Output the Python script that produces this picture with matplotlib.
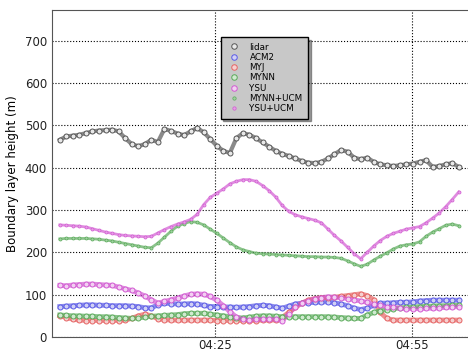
import numpy as np
import matplotlib
matplotlib.use("Agg")
import matplotlib.pyplot as plt

# minutes after 04:00, one sample per minute
minutes = np.arange(62) + 1.2

lidar = [466, 474, 476, 478, 482, 486, 488, 489, 490, 486, 470, 456, 451, 456, 466, 461,
         492, 487, 481, 477, 486, 494, 484, 468, 452, 440, 435, 470, 482, 478, 470, 460,
         450, 440, 433, 428, 422, 416, 412, 411, 414, 422, 432, 442, 438, 424, 420, 424,
         414, 408, 406, 404, 406, 408, 410, 414, 418, 402, 404, 408, 411, 402]
acm2 = [72, 73, 74, 75, 76, 76, 75, 75, 74, 74, 74, 73, 72, 69, 69, 76, 80, 79, 78, 78,
        79, 78, 75, 72, 72, 71, 71, 70, 71, 72, 74, 75, 74, 71, 68, 73, 78, 80, 81, 82,
        83, 83, 81, 78, 74, 68, 65, 68, 75, 80, 80, 81, 82, 82, 83, 85, 86, 87, 87, 87,
        87, 87]
myj = [50, 46, 42, 40, 39, 39, 39, 39, 39, 39, 40, 44, 50, 54, 50, 43, 41, 40, 40, 40,
       40, 40, 40, 40, 39, 39, 39, 39, 39, 39, 39, 40, 40, 40, 46, 58, 70, 80, 87, 91,
       93, 93, 94, 96, 98, 100, 102, 98, 88, 58, 44, 40, 40, 40, 40, 40, 40, 40, 40, 40,
       40, 40]
mynn = [52, 51, 50, 50, 49, 49, 48, 48, 47, 46, 45, 44, 45, 47, 49, 50, 51, 52, 53, 55,
        56, 56, 56, 54, 52, 50, 48, 46, 45, 47, 49, 50, 50, 49, 48, 48, 48, 48, 48, 48,
        48, 48, 47, 46, 45, 44, 44, 52, 58, 62, 65, 67, 69, 70, 71, 72, 73, 73, 74, 74,
        75, 75]
ysu = [122, 121, 123, 124, 125, 125, 124, 123, 122, 118, 114, 110, 104, 97, 88, 80, 84,
       88, 92, 97, 101, 102, 101, 96, 87, 74, 60, 47, 42, 41, 42, 42, 42, 42, 38, 55, 72,
       80, 86, 90, 93, 95, 94, 93, 91, 88, 85, 82, 78, 75, 72, 70, 68, 67, 67, 67, 68,
       68, 69, 70, 71, 72]
mynn_ucm = [232, 233, 233, 233, 233, 232, 231, 229, 227, 224, 221, 218, 215, 212, 211,
            222, 236, 250, 262, 268, 273, 271, 265, 255, 245, 234, 223, 213, 206, 202,
            198, 197, 196, 195, 194, 193, 192, 191, 190, 190, 189, 189, 188, 186, 180,
            173, 167, 172, 182, 191, 199, 208, 215, 218, 220, 225, 238, 248, 256, 264,
            267, 263]
ysu_ucm = [265, 264, 263, 262, 260, 256, 252, 248, 245, 242, 240, 239, 238, 237, 238,
           246, 254, 261, 267, 272, 278, 290, 313, 330, 340, 350, 362, 368, 372, 372,
           368, 358, 346, 331, 311, 297, 289, 284, 280, 276, 270, 255, 240, 227, 212,
           197, 185, 200, 215, 228, 238, 245, 250, 255, 258, 261, 270, 281, 293, 308,
           325, 343]

xtick_pos = [25, 55]
xtick_labels = ["04:25", "04:55"]

fig = plt.figure(figsize=(4.68, 3.52), dpi=100)
ax = fig.add_axes([0.111, 0.0426, 0.9, 0.929])

big = dict(marker="o", markersize=3.6, markeredgewidth=0.7)
small = dict(marker="o", markersize=2.2, markeredgewidth=0.5)

ax.plot(minutes, lidar, "-", color="#8a8a8a", lw=3.0, zorder=2)
ax.plot(minutes, lidar, ls="none", mfc="#e8e8e8", mec="#555555", label="lidar", zorder=3, **big)

series = [
    (acm2, "#5a5ae6", "#d0d0f5", "ACM2", big),
    (myj, "#e66464", "#f5d0d0", "MYJ", big),
    (mynn, "#5aaa5a", "#d0ead0", "MYNN", big),
    (ysu, "#d25ad2", "#f2d0f2", "YSU", big),
    (mynn_ucm, "#5aaa5a", "#a0d2a0", "MYNN+UCM", small),
    (ysu_ucm, "#d25ad2", "#e6a0e6", "YSU+UCM", small),
]
for vals, col, face, name, style in series:
    lw = 3.5 if style is big else 2.0
    ax.plot(minutes, vals, "-", color=col, lw=lw, alpha=0.7, zorder=2)
    ax.plot(minutes, vals, ls="none", mfc=face, mec=col, label=name, zorder=3, **style)

ax.set_xlim(0, 64.4)
ax.set_ylim(0, 773)
ax.set_yticks(range(0, 701, 100))
ax.set_xticks(xtick_pos)
ax.set_xticklabels(xtick_labels)
ax.grid(True, color="black", linestyle=":", linewidth=0.8)
ax.tick_params(labelsize=8.5, length=0, colors="#222222")
ax.tick_params(axis="x", pad=1.5)
ax.set_ylabel("Boundary layer height (m)", fontsize=8.5)
for s in ax.spines.values():
    s.set_color("#555555")

leg = ax.legend(loc="upper left", bbox_to_anchor=(0.39, 0.93), fontsize=6.3,
                numpoints=1, shadow=True, fancybox=False, framealpha=1,
                handletextpad=0.9, handlelength=1.8, labelspacing=0.15,
                borderpad=0.6, markerscale=1.1)
leg.get_frame().set_facecolor("#c8c8c8")
leg.get_frame().set_edgecolor("black")

fig.savefig("out.png", dpi=100)
